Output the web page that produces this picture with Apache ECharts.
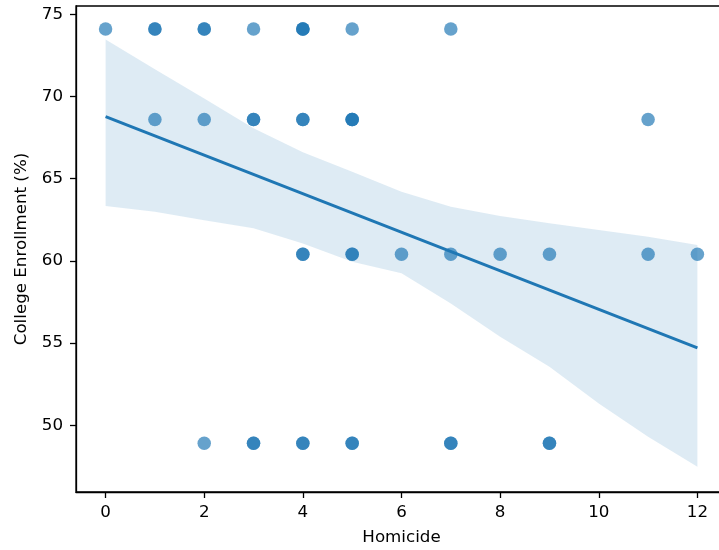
<!DOCTYPE html>
<html>
<head>
<meta charset="utf-8">
<script src="https://cdn.jsdelivr.net/npm/echarts@6/dist/echarts.min.js"></script>
<style>
html,body{margin:0;padding:0;background:#fff;}
#chart{width:719px;height:550px;}
</style>
</head>
<body>
<div id="chart"></div>
<script>
// Scatter observations (duplicates = overlapping points)
const homicide = [
  0, 1, 1, 2, 2, 3, 4, 4, 4, 5, 7,
  1, 2, 3, 3, 4, 4, 5, 5, 5, 11,
  4, 4, 5, 5, 6, 7, 8, 9, 11, 12,
  2, 3, 3, 4, 4, 5, 5, 7, 7, 9, 9
];
const enrollment = [
  74.1, 74.1, 74.1, 74.1, 74.1, 74.1, 74.1, 74.1, 74.1, 74.1, 74.1,
  68.6, 68.6, 68.6, 68.6, 68.6, 68.6, 68.6, 68.6, 68.6, 68.6,
  60.4, 60.4, 60.4, 60.4, 60.4, 60.4, 60.4, 60.4, 60.4, 60.4,
  48.9, 48.9, 48.9, 48.9, 48.9, 48.9, 48.9, 48.9, 48.9, 48.9, 48.9
];
// Regression fit line
const fitX = [0, 12];
const fitY = [68.77, 54.71];
// Confidence band
const bandX = [0, 1, 2, 3, 4, 5, 6, 7, 8, 9, 10, 11, 12];
const bandUpper = [73.47, 71.66, 69.88, 68.06, 66.6, 65.42, 64.2, 63.29, 62.73, 62.28, 61.87, 61.47, 60.96];
const bandLower = [63.33, 62.99, 62.47, 61.98, 61.06, 59.95, 59.24, 57.41, 55.38, 53.56, 51.33, 49.3, 47.48];
// Ticks
const xTicks = [0, 2, 4, 6, 8, 10, 12];
const yTicks = [50, 55, 60, 65, 70, 75];

const FONT = 'DejaVu Sans';
const FS = 16.7;
const C0 = '#1f77b4';

const chart = echarts.init(document.getElementById('chart'), null, {renderer: 'canvas'});

const scatterData = homicide.map((x, i) => [x, enrollment[i]]);
const fitData = fitX.map((x, i) => [x, fitY[i]]);

const option = {
  animation: false,
  backgroundColor: '#fff',
  grid: {left: 76, width: 651, top: 6, bottom: 58, containLabel: false, outerBoundsMode: 'none',
         show: true, borderColor: '#000', borderWidth: 1.3, backgroundColor: 'transparent'},
  xAxis: {
    type: 'value', min: -0.6, max: 12.6,
    axisLine: {show: true, onZero: false, lineStyle: {color: '#000', width: 1.3}},
    axisTick: {show: true, customValues: xTicks, length: 6, lineStyle: {color: '#000', width: 1.3}},
    axisLabel: {customValues: xTicks, margin: 12, fontSize: FS, fontFamily: FONT, color: '#000'},
    splitLine: {show: false},
    name: 'Homicide', nameLocation: 'middle', nameGap: 37,
    nameTextStyle: {fontSize: FS, fontFamily: FONT, color: '#000'}
  },
  yAxis: {
    type: 'value', min: 45.94, max: 75.5,
    axisLine: {show: true, onZero: false, lineStyle: {color: '#000', width: 1.3}},
    axisTick: {show: true, customValues: yTicks, length: 6, lineStyle: {color: '#000', width: 1.3}},
    axisLabel: {customValues: yTicks, margin: 13, fontSize: FS, fontFamily: FONT, color: '#000'},
    splitLine: {show: false},
    name: 'College Enrollment (%)', nameLocation: 'middle', nameGap: 46, nameRotate: 90,
    nameTextStyle: {fontSize: FS, fontFamily: FONT, color: '#000'}
  },
  series: [
    {
      type: 'custom',
      coordinateSystem: 'cartesian2d',
      silent: true,
      clip: false,
      data: [[0, 0]],
      renderItem: function (params, api) {
        const pts = [];
        for (let i = 0; i < bandX.length; i++) pts.push(api.coord([bandX[i], bandUpper[i]]));
        for (let i = bandX.length - 1; i >= 0; i--) pts.push(api.coord([bandX[i], bandLower[i]]));
        return {type: 'polygon', shape: {points: pts}, style: {fill: C0, opacity: 0.15}};
      },
      z: 1
    },
    {
      type: 'scatter',
      data: scatterData,
      symbolSize: 13.5,
      itemStyle: {color: 'rgba(31,119,180,0.85)'},
      z: 2
    },
    {
      type: 'line',
      data: fitData,
      showSymbol: false,
      lineStyle: {color: C0, width: 3},
      z: 3
    }
  ]
};
chart.setOption(option);
</script>
</body>
</html>
